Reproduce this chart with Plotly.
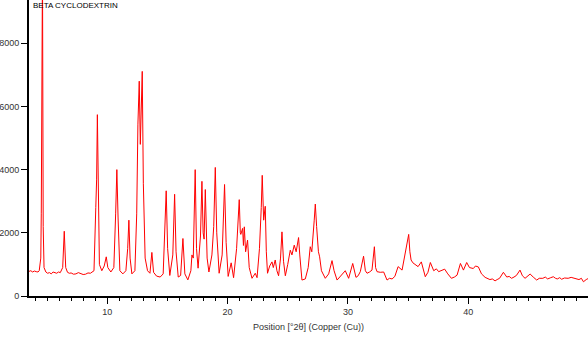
import plotly.graph_objects as go

# Diffraction pattern: position (°2θ) and intensity (counts)
two_theta = [
    3.5, 3.65, 3.8, 3.95, 4.1, 4.25, 4.35, 4.48, 4.52, 4.56, 4.62, 4.68, 4.75, 4.9, 5.05, 5.2, 5.35, 5.5,
    5.65, 5.8, 5.95, 6.1, 6.3, 6.43, 6.55, 6.7, 6.85,
    7.0, 7.2, 7.4, 7.6, 7.8, 8.0, 8.2, 8.4, 8.6, 8.9, 9.05, 9.12, 9.18, 9.25, 9.35, 9.55, 9.75, 9.92,
    10.05, 10.3, 10.55,
    10.7, 10.8, 10.9, 11.05, 11.3, 11.55, 11.7, 11.8, 11.9, 12.05, 12.3, 12.45, 12.55, 12.66, 12.75,
    12.85, 12.91, 13.0, 13.15, 13.35, 13.55, 13.71, 13.85, 14.1, 14.4, 14.65, 14.8, 14.9, 15.02, 15.2,
    15.45, 15.6, 15.72, 15.9, 16.1, 16.29, 16.45, 16.7, 16.95, 17.04, 17.15, 17.31, 17.42, 17.55, 17.75,
    17.87, 17.97, 18.05, 18.15, 18.3, 18.45, 18.6, 18.7, 18.85, 18.98, 19.1, 19.3, 19.55, 19.75, 19.88,
    20.05, 20.3, 20.5, 20.75, 20.97, 21.06, 21.1, 21.25, 21.32, 21.39, 21.5, 21.66, 21.8, 22.03, 22.3,
    22.45, 22.65, 22.8, 22.88, 23.0, 23.13, 23.22, 23.32, 23.5, 23.69, 23.8, 23.96, 24.1, 24.24, 24.4,
    24.52, 24.65, 24.8, 25.0, 25.21, 25.35, 25.54, 25.7, 25.9, 26.0, 26.18, 26.46, 26.7, 26.87, 27.0,
    27.2, 27.29, 27.4, 27.55, 27.65, 27.8, 28.12, 28.4, 28.68, 28.85, 29.1, 29.3, 29.51, 29.78, 30.06,
    30.4, 30.67, 30.85, 31.03, 31.3, 31.45, 31.59, 31.8, 32.0, 32.2, 32.3, 32.42, 32.69, 32.97, 33.1,
    33.25, 33.45, 33.67, 33.9, 34.17, 34.5, 34.77, 34.95, 35.05, 35.15, 35.25, 35.4, 35.6, 35.83, 36.1,
    36.43, 36.65, 36.85, 37.13, 37.35, 37.54, 37.8, 38.04, 38.3, 38.6, 38.85, 39.07, 39.35, 39.6,
    39.87, 40.1, 40.42, 40.6, 40.84, 41.1, 41.4, 41.6, 41.8, 42.0, 42.23, 42.4, 42.6, 42.92, 43.2,
    43.4, 43.6, 43.8, 44.0, 44.3, 44.5, 44.72, 44.9, 45.14, 45.4, 45.69, 45.9, 46.2, 46.4, 46.6, 46.85,
    47.07, 47.25, 47.4, 47.6, 47.76, 48.0, 48.3, 48.55, 48.88, 49.05, 49.2, 49.4, 49.57, 49.8, 50.0,
]
counts = [
    780, 800, 760, 790, 770, 760, 800, 1200, 2600, 7300, 10500, 2200, 900, 760, 720, 740, 700, 760,
    730, 720, 760, 740, 900, 2050, 900, 750, 720,
    730, 690, 700, 740, 710, 680, 690, 730, 720, 800, 2800, 3700, 5740, 3000, 1000, 800, 950, 1240,
    900, 760, 900,
    2600, 4000, 2500, 800, 700, 800, 1500, 2400, 1200, 700, 800, 2600, 5440, 6800, 4800,
    6900, 7110, 3570, 1200, 800, 720, 1380, 750, 630, 600, 700, 2000, 3330, 1500, 650,
    1300, 3220, 1400, 600, 650, 1820, 700, 510, 800, 1300, 1200, 4000, 1500, 880, 1900,
    3630, 2000, 1800, 3370, 1200, 760, 1100, 1300, 2200, 4070, 2000, 720, 1300, 3530, 1700,
    620, 1050, 580, 1500, 3050, 2000, 1950, 2140, 1600, 2190, 1400, 1770, 900, 560, 720,
    580, 1500, 2800, 3820, 2400, 2840, 1400, 720, 950, 1080, 900, 1140, 800, 640, 1200,
    2030, 1100, 640, 1000, 1450, 1300, 1610, 1400, 1850, 1300, 505, 540, 900, 1560, 1400,
    2400, 2910, 2200, 1400, 1240, 800, 560, 700, 1120, 800, 505, 600, 695, 800, 560,
    1030, 590, 640, 770, 1260, 800, 720, 760, 820, 1560, 900, 770, 750, 760, 620,
    505, 560, 540, 620, 930, 820, 1350, 1700, 1950, 1400, 1140, 1050, 980, 930, 1080,
    610, 750, 1060, 800, 860, 770, 820, 850, 700, 560, 600, 660, 1030, 820,
    1060, 900, 870, 950, 920, 700, 590, 560, 520, 540, 480, 520, 560, 750, 600,
    620, 560, 600, 650, 820, 640, 560, 620, 695, 600, 505, 560, 560, 600, 540, 580,
    610, 560, 540, 580, 530, 570, 560, 590, 560, 540, 520, 560, 450, 520, 560,
]

y_ticks = [0, 2000, 4000, 6000, 8000]
x_ticks = [10, 20, 30, 40]
title_text = "BETA CYCLODEXTRIN"
x_title = "Position [°2θ] (Copper (Cu))"

fig = go.Figure()
fig.add_trace(go.Scatter(
    x=two_theta, y=counts, mode="lines",
    line=dict(color="#ff0000", width=1),
    showlegend=False, hoverinfo="skip",
))

fig.update_layout(
    width=588, height=344,
    margin=dict(l=29, r=0, t=0, b=48),
    paper_bgcolor="white", plot_bgcolor="white",
    font=dict(family="Liberation Sans, Arial, sans-serif", size=9, color="#333333"),
    showlegend=False,
)
fig.update_xaxes(
    range=[3.5, 49.95], showgrid=False, zeroline=False,
    showline=True, linecolor="black", linewidth=2,
    tickmode="array", tickvals=x_ticks, ticktext=[str(v) for v in x_ticks],
    ticks="outside", ticklen=6, tickwidth=1, tickcolor="black",
    minor=dict(dtick=1, tick0=0, ticks="outside", ticklen=3, tickcolor="black", tickwidth=1, showgrid=False),
    tickfont=dict(size=9, color="#333333"),
    title=dict(text=x_title, font=dict(size=9, color="#333333"), standoff=8),
)
fig.update_yaxes(
    range=[0, 9370], showgrid=False, zeroline=False,
    showline=True, linecolor="black", linewidth=2,
    tickmode="array", tickvals=y_ticks, ticktext=[str(v) for v in y_ticks],
    ticks="outside", ticklen=6, tickwidth=1, tickcolor="black",
    tickfont=dict(size=9, color="#333333"),
)
fig.add_annotation(
    text=title_text, xref="paper", yref="paper", x=0, y=1,
    xanchor="left", yanchor="top", xshift=2, yshift=1, showarrow=False,
    font=dict(size=8, color="black", family="Liberation Sans, Arial, sans-serif"),
)

fig.write_html("out.html")
